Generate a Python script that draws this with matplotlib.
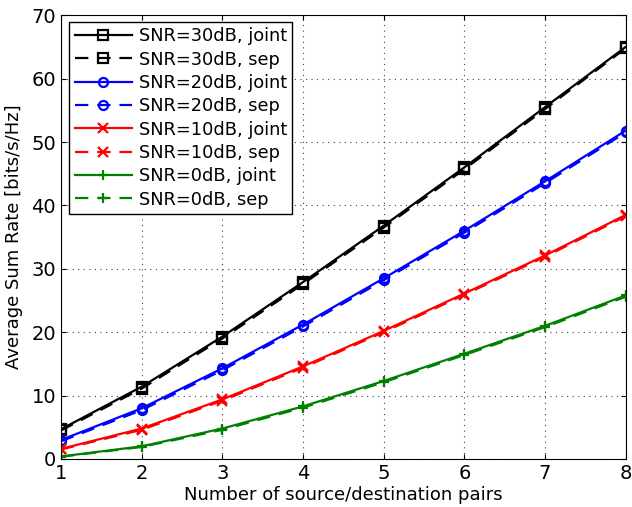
import numpy as np
import matplotlib.pyplot as plt

pairs = [1, 2, 3, 4, 5, 6, 7, 8]
snr30_joint = [4.7, 11.4, 19.3, 27.9, 36.8, 46.0, 55.5, 65.0]
snr30_sep = [4.5, 11.1, 19.0, 27.6, 36.5, 45.7, 55.2, 64.8]
snr20_joint = [3.0, 8.0, 14.3, 21.2, 28.5, 36.0, 43.8, 51.8]
snr20_sep = [2.8, 7.7, 14.0, 20.9, 28.2, 35.7, 43.5, 51.5]
snr10_joint = [1.6, 4.8, 9.4, 14.6, 20.2, 26.1, 32.1, 38.5]
snr10_sep = [1.5, 4.6, 9.2, 14.4, 20.0, 25.9, 31.9, 38.3]
snr0_joint = [0.4, 2.0, 4.8, 8.3, 12.3, 16.6, 21.0, 25.8]
snr0_sep = [0.35, 1.9, 4.6, 8.1, 12.1, 16.4, 20.8, 25.6]

series = [
    (snr30_joint, 'k', '-', 's', 'SNR=30dB, joint'),
    (snr30_sep, 'k', '--', 's', 'SNR=30dB, sep'),
    (snr20_joint, 'b', '-', 'o', 'SNR=20dB, joint'),
    (snr20_sep, 'b', '--', 'o', 'SNR=20dB, sep'),
    (snr10_joint, 'r', '-', 'x', 'SNR=10dB, joint'),
    (snr10_sep, 'r', '--', 'x', 'SNR=10dB, sep'),
    (snr0_joint, 'g', '-', '+', 'SNR=0dB, joint'),
    (snr0_sep, 'g', '--', '+', 'SNR=0dB, sep'),
]
colors = {'k': 'black', 'b': '#0000ff', 'r': '#ff0000', 'g': '#008000'}

fig = plt.figure(figsize=(6.32, 5.07), dpi=100)
ax = fig.add_axes([0.0965, 0.0947, 0.8935, 0.8753])
for y, c, ls, m, lab in series:
    ax.plot(pairs, y, color=colors[c], linestyle=ls, marker=m, markersize=6.5,
            markerfacecolor='none', markeredgewidth=1.6, linewidth=1.6,
            label=lab, dashes=(6, 4) if ls == '--' else (None, None))

ax.set_xlim(1, 8)
ax.set_ylim(0, 70)
ax.set_xticks(pairs)
ax.set_yticks(range(0, 71, 10))
ax.grid(True, linestyle=(0, (1, 4)), color='#444444', linewidth=0.8)
ax.tick_params(direction='in', top=True, right=True, labelsize=14)
ax.set_xlabel('Number of source/destination pairs', fontsize=13, labelpad=2)
ax.set_ylabel('Average Sum Rate [bits/s/Hz]', fontsize=13, labelpad=6)
leg = ax.legend(loc='upper left', fontsize=12.8, fancybox=False, framealpha=1,
                edgecolor='black', borderpad=0.3, labelspacing=0.3,
                handlelength=3.2, handletextpad=0.4, borderaxespad=0,
                bbox_to_anchor=(0.015, 0.985))
leg.get_frame().set_linewidth(1)
fig.savefig('out.png', dpi=100)
